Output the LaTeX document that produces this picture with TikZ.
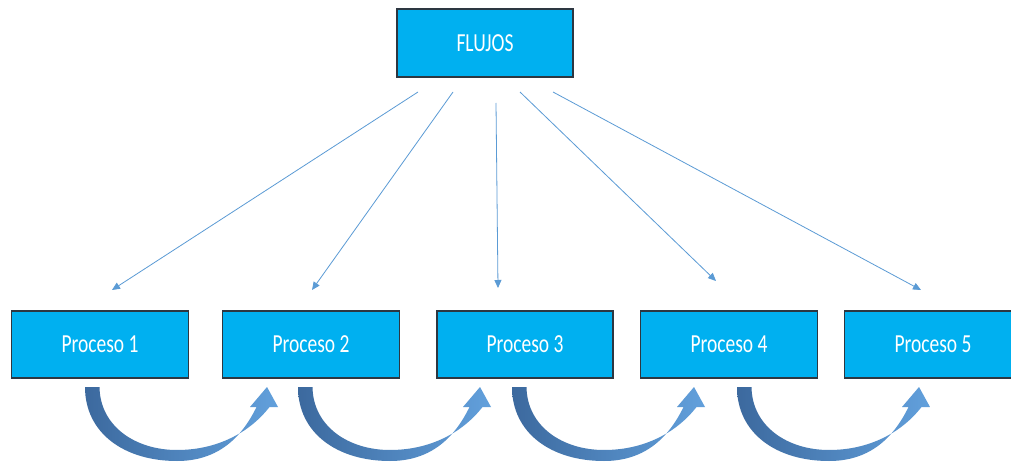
\documentclass[tikz,border=0pt]{standalone}
\usepackage{fontspec}
\setmainfont{Carlito}
\usetikzlibrary{arrows.meta}
\definecolor{boxcyan}{RGB}{0,176,240}
\definecolor{boxline}{RGB}{45,55,65}
\definecolor{thinblue}{RGB}{91,155,213}
\definecolor{arrdark}{RGB}{60,105,158}
\definecolor{arrlight}{RGB}{98,160,220}
\tikzset{
  procbox/.style={rectangle, fill=boxcyan, draw=boxline, line width=1.2pt,
    minimum width=177pt, minimum height=67pt, inner sep=0pt,
    text=white, font=\fontsize{26}{26}\selectfont},
  thinarrow/.style={draw=thinblue, line width=0.8pt,
    -{Triangle[length=8pt,width=7pt]}},
  blockarrow/.style={left color=arrdark, right color=arrlight, draw=none}
}
\newcommand{\squeeze}[1]{\scalebox{0.75}[1]{#1}}
\begin{document}
\begin{tikzpicture}[x=1pt,y=-1pt]
\useasboundingbox (0,0) rectangle (1011,462);
\clip (0,0) rectangle (1011,462);
\fill[white] (0,0) rectangle (1011,462);

\node[procbox, minimum width=176pt, minimum height=68pt] (fl) at (485,43) {\squeeze{FLUJOS}};
\node[procbox] (p1) at (100,344.5) {\squeeze{Proceso 1}};
\node[procbox] (p2) at (311,344.5) {\squeeze{Proceso 2}};
\node[procbox, minimum width=176pt] (p3) at (525,344.5) {\squeeze{Proceso 3}};
\node[procbox] (p4) at (729,344.5) {\squeeze{Proceso 4}};
\node[procbox] (p5) at (933,344.5) {\squeeze{Proceso 5}};

% free ends of the thin connectors
\coordinate (s1) at (418,92);  \coordinate (e1) at (112,290);
\coordinate (s2) at (453,92);  \coordinate (e2) at (312,290);
\coordinate (s3) at (496,103); \coordinate (e3) at (498,288);
\coordinate (s4) at (520,92);  \coordinate (e4) at (716,281);
\coordinate (s5) at (553,92);  \coordinate (e5) at (921,290);
\foreach \i in {1,...,5} \draw[thinarrow] (s\i) -- (e\i);

% curved block arrows between processes
\foreach \dx in {0,213,427,652}{
  \begin{scope}[shift={(\dx,0)}]
  \shade[blockarrow]
    (85,387) -- (99.5,387)
    .. controls (100,426) and (135,450) .. (177,450)
    .. controls (218,450) and (250,432) .. (269.5,407)
    -- (278,407) -- (267,387) -- (250,407) -- (256.5,407)
    .. controls (240,441) and (215,461) .. (177,461)
    .. controls (124,461) and (85,433) .. (85,387) -- cycle;
  \end{scope}
}
\end{tikzpicture}
\end{document}
